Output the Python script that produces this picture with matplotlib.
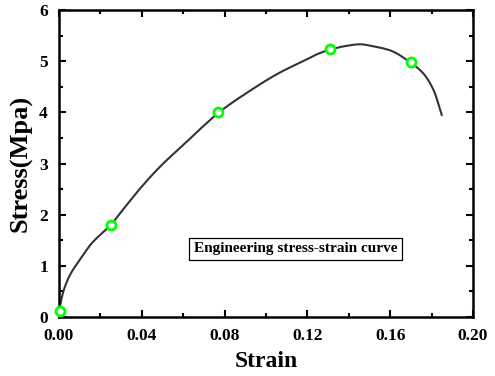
import matplotlib
matplotlib.use("Agg")
import matplotlib.pyplot as plt
from matplotlib.ticker import MultipleLocator
import numpy as np

# curve data (strain, stress)
strain = [0.0, 0.0005, 0.0021, 0.0053, 0.0101, 0.0158, 0.025, 0.0319, 0.040, 0.0496,
          0.060, 0.0681, 0.077, 0.0907, 0.1068, 0.118, 0.1261, 0.1314, 0.139, 0.1454,
          0.1518, 0.160, 0.1699, 0.176, 0.181, 0.1849]
stress = [0.12, 0.22, 0.50, 0.82, 1.12, 1.44, 1.80, 2.15, 2.55, 2.97,
          3.36, 3.67, 3.99, 4.38, 4.78, 5.00, 5.16, 5.23, 5.30, 5.33,
          5.29, 5.21, 4.97, 4.76, 4.43, 3.95]

# highlighted points
mark_strain = [0.0005, 0.025, 0.077, 0.131, 0.170]
mark_stress = [0.12, 1.80, 4.00, 5.23, 4.98]

xticks = [0.00, 0.04, 0.08, 0.12, 0.16, 0.20]
yticks = [0, 1, 2, 3, 4, 5, 6]

plt.rcParams['font.family'] = ['Liberation Serif', 'DejaVu Serif']
plt.rcParams['font.weight'] = 'bold'

fig = plt.figure(figsize=(4.95, 3.76), dpi=100)
ax = fig.add_axes([59/495, 1-317/376, (473-59)/495, (317-10)/376])


def pchip(x, y, xn):
    x = np.asarray(x, float); y = np.asarray(y, float)
    h = np.diff(x); d = np.diff(y) / h
    m = np.zeros_like(y)
    for k in range(1, len(x) - 1):
        if d[k-1] * d[k] > 0:
            w1 = 2*h[k] + h[k-1]; w2 = h[k] + 2*h[k-1]
            m[k] = (w1 + w2) / (w1 / d[k-1] + w2 / d[k])
    m[0] = d[0]; m[-1] = d[-1]
    idx = np.clip(np.searchsorted(x, xn) - 1, 0, len(x) - 2)
    t = (xn - x[idx]) / h[idx]
    h00 = 2*t**3 - 3*t**2 + 1; h10 = t**3 - 2*t**2 + t
    h01 = -2*t**3 + 3*t**2; h11 = t**3 - t**2
    return h00*y[idx] + h10*h[idx]*m[idx] + h01*y[idx+1] + h11*h[idx]*m[idx+1]


xn = np.linspace(strain[0], strain[-1], 800)
ax.plot(xn, pchip(strain, stress, xn), color='#333333', lw=1.5, zorder=2)
ax.plot(mark_strain, mark_stress, linestyle='none', marker='o', ms=6.5,
        mfc='white', mec='#00ff00', mew=2, zorder=3, clip_on=False)

ax.set_xlim(0, 0.20)
ax.set_ylim(0, 6)
ax.set_xticks(xticks)
ax.set_yticks(yticks)
ax.set_xticklabels([f"{v:.2f}" for v in xticks])
ax.set_yticklabels([str(v) for v in yticks])
ax.xaxis.set_minor_locator(MultipleLocator(0.02))
ax.yaxis.set_minor_locator(MultipleLocator(0.5))
ax.tick_params(which='both', direction='in', top=True, right=True, width=1.5,
               labelsize=12.5)
ax.tick_params(axis='x', pad=8)
ax.tick_params(axis='y', pad=8)
ax.tick_params(which='major', length=5)
ax.tick_params(which='minor', length=3)
for lab in ax.get_xticklabels() + ax.get_yticklabels():
    lab.set_fontweight('bold')
for s in ax.spines.values():
    s.set_linewidth(1.8)

ax.set_xlabel('Strain', fontsize=17, fontweight='bold', labelpad=5)
ax.set_ylabel('Stress(Mpa)', fontsize=19, fontweight='bold', labelpad=5)

ax.text(0.1143, 1.33, 'Engineering stress-strain curve', ha='center', va='center',
        fontsize=11, fontweight='bold',
        bbox=dict(boxstyle='square,pad=0.3', fc='white', ec='black', lw=0.9))

fig.savefig('out.png', dpi=100)
